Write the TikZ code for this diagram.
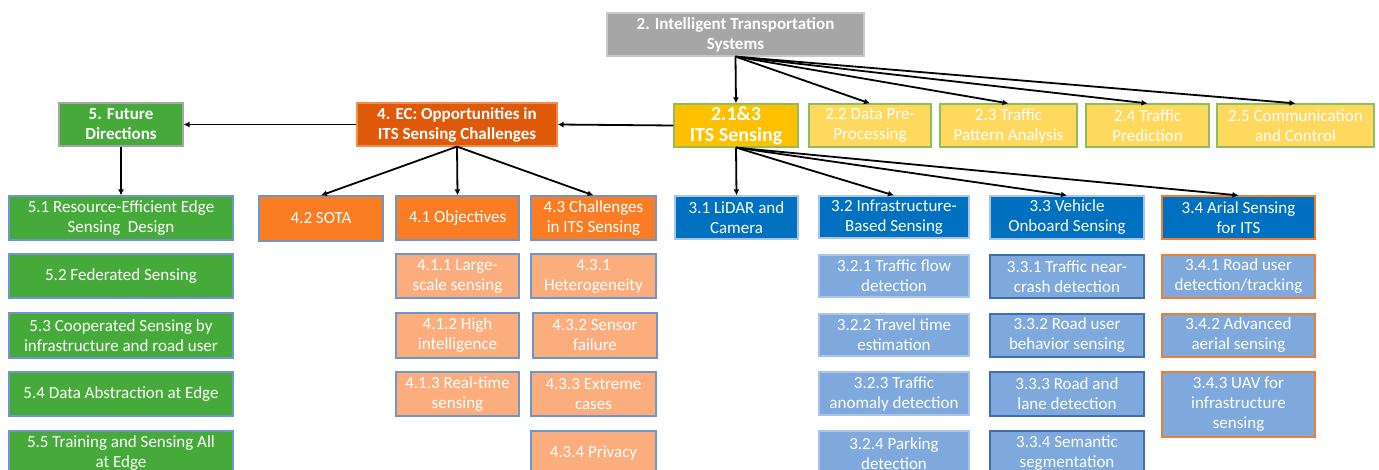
\documentclass[tikz,border=0pt]{standalone}
\usepackage{fontspec}
\setmainfont{Carlito}
\usetikzlibrary{arrows.meta}
\definecolor{cgray}{RGB}{166,166,166}
\definecolor{cgrayb}{RGB}{200,200,200}
\definecolor{cgreen}{RGB}{70,170,58}
\definecolor{cdorange}{RGB}{222,89,10}
\definecolor{cdorangeb}{RGB}{240,140,80}
\definecolor{corange}{RGB}{250,125,36}
\definecolor{clorange}{RGB}{251,173,126}
\definecolor{cblueb}{RGB}{110,150,200}
\definecolor{cgold}{RGB}{255,192,0}
\definecolor{cgreenb}{RGB}{140,190,90}
\definecolor{cyellow}{RGB}{255,216,94}
\definecolor{cblue}{RGB}{0,112,192}
\definecolor{clblue}{RGB}{127,168,220}
\definecolor{clblueb}{RGB}{170,196,232}
\definecolor{cdblueb}{RGB}{62,110,180}
\definecolor{cob}{RGB}{237,125,49}
\tikzset{
  box/.style={rectangle, inner sep=0pt, align=center, text=white, line width=1.2pt,
    font=\fontsize{17}{20}\selectfont},
  bbox/.style={box, font=\fontsize{17}{20}\selectfont\bfseries},
  sgray/.style={bbox, fill=cgray, draw=cgrayb},
  sfd/.style={bbox, fill=cgreen, draw=cgray},
  sgreen/.style={box, fill=cgreen, draw=cblueb},
  sec/.style={bbox, fill=cdorange, draw=cdorangeb},
  sorange/.style={box, fill=corange, draw=cblueb},
  slorange/.style={box, fill=clorange, draw=cblueb},
  sgold/.style={bbox, fill=cgold, draw=cgreenb, font=\fontsize{20}{21}\selectfont\bfseries},
  syellow/.style={box, fill=cyellow, draw=cgreenb},
  sblue/.style={box, fill=cblue, draw=clblueb},
  sblueo/.style={box, fill=cblue, draw=cob},
  slblue/.style={box, fill=clblue, draw=clblueb},
  slbluedk/.style={box, fill=clblue, draw=cdblueb},
  slblueo/.style={box, fill=clblue, draw=cob},
  arr/.style={-{Latex[length=6pt,width=6pt]}, line width=1.8pt, black},
}
\newcommand\bx[7]{%
  \pgfmathsetmacro\bxw{#4-#2}\pgfmathsetmacro\bxh{#5-#3}%
  \pgfmathsetmacro\bxx{(#2+#4)/2}\pgfmathsetmacro\bxy{(#3+#5)/2}%
  \node[#6, minimum width=\bxw pt, minimum height=\bxh pt] (#1) at (\bxx,\bxy) {#7};}
\begin{document}
\begin{tikzpicture}[x=1pt,y=-1pt]
\useasboundingbox (0,0) rectangle (1379,470);
\clip (0,0) rectangle (1379,470);
% level 1
\bx{top}{607}{13}{864}{56}{sgray}{2. Intelligent Transportation\\Systems}
% level 2
\bx{fd}{59}{103}{183}{146}{sfd}{5. Future\\Directions}
\bx{ec}{357}{103}{557}{146}{sec}{4. EC: Opportunities in\\ITS Sensing Challenges}
\bx{its}{674}{104}{798}{147}{sgold}{2.1\&3\\ITS Sensing}
\bx{b22}{809}{104}{931}{147}{syellow}{2.2 Data Pre-\\Processing}
\bx{b23}{940}{104}{1077}{147}{syellow}{2.3 Traffic\\Pattern Analysis}
\bx{b24}{1086}{104}{1209}{147}{syellow}{2.4 Traffic\\Prediction}
\bx{b25}{1217}{104}{1374}{147}{syellow}{2.5 Communication\\and Control}
% future directions
\bx{f1}{9}{196}{233}{240}{sgreen}{5.1 Resource-Efficient Edge\\Sensing~ Design}
\bx{f2}{9}{254}{233}{298}{sgreen}{5.2 Federated Sensing}
\bx{f3}{9}{313}{233}{358}{sgreen}{5.3 Cooperated Sensing by\\infrastructure and road user}
\bx{f4}{9}{372}{233}{416}{sgreen}{5.4 Data Abstraction at Edge}
\bx{f5}{9}{431}{233}{476}{sgreen}{5.5 Training and Sensing All\\at Edge}
% EC
\bx{e42}{259}{196}{383}{241}{sorange}{4.2 SOTA}
\bx{e41}{396}{196}{519}{240}{sorange}{4.1 Objectives}
\bx{e43}{531}{196}{656}{240}{sorange}{4.3 Challenges\\in ITS Sensing}
\bx{e411}{396}{254}{519}{298}{slorange}{4.1.1 Large-\\scale sensing}
\bx{e412}{396}{313}{519}{358}{slorange}{4.1.2 High\\intelligence}
\bx{e413}{396}{372}{519}{416}{slorange}{4.1.3 Real-time\\sensing}
\bx{e431}{531}{254}{656}{298}{slorange}{4.3.1\\Heterogeneity}
\bx{e432}{533}{313}{657}{358}{slorange}{4.3.2 Sensor\\failure}
\bx{e433}{531}{372}{656}{416}{slorange}{4.3.3 Extreme\\cases}
\bx{e434}{531}{431}{656}{476}{slorange}{4.3.4 Privacy}
% ITS sensing
\bx{s31}{675}{196}{798}{239}{sblue}{3.1 LiDAR and\\Camera}
\bx{s32}{819}{196}{969}{238}{sblue}{3.2 Infrastructure-\\Based Sensing}
\bx{s33}{990}{196}{1144}{239}{sblue}{3.3 Vehicle\\Onboard Sensing}
\bx{s34}{1162}{196}{1315}{239}{sblueo}{3.4 Arial Sensing\\for ITS}
\bx{s321}{819}{255}{969}{297}{slblue}{3.2.1 Traffic flow\\detection}
\bx{s322}{819}{314}{969}{356}{slblue}{3.2.2 Travel time\\estimation}
\bx{s323}{819}{372}{969}{415}{slblue}{3.2.3 Traffic\\anomaly detection}
\bx{s324}{819}{431}{969}{476}{slblue}{3.2.4 Parking\\detection}
\bx{s331}{990}{255}{1144}{298}{slbluedk}{3.3.1 Traffic near-\\crash detection}
\bx{s332}{990}{314}{1144}{357}{slbluedk}{3.3.2 Road user\\behavior sensing}
\bx{s333}{990}{372}{1144}{416}{slbluedk}{3.3.3 Road and\\lane detection}
\bx{s334}{990}{431}{1144}{476}{slbluedk}{3.3.4 Semantic\\segmentation}
\bx{s341}{1162}{255}{1315}{298}{slblueo}{3.4.1 Road user\\detection/tracking}
\bx{s342}{1162}{314}{1315}{357}{slblueo}{3.4.2 Advanced\\aerial sensing}
\bx{s343}{1162}{372}{1315}{437}{slblueo}{3.4.3 UAV for\\infrastructure\\sensing}
% arrows
\draw[arr] (top.south) -- (its.north);
\draw[arr] (top.south) -- (b22.north);
\draw[arr] (top.south) -- (b23.north);
\draw[arr] (top.south) -- (b24.north);
\draw[arr] (top.south) -- (b25.north);
\draw[arr] (its.west) -- (ec.east);
\draw[arr] (ec.west) -- (fd.east);
\draw[arr] (fd.south) -- (f1.north);
\draw[arr] (ec.south) -- (e42.north);
\draw[arr] (ec.south) -- (e41.north);
\draw[arr] (ec.south) -- (e43.north);
\draw[arr] (its.south) -- (s31.north);
\draw[arr] (its.south) -- (s32.north);
\draw[arr] (its.south) -- (s33.north);
\draw[arr] (its.south) -- (s34.north);
\end{tikzpicture}
\end{document}
